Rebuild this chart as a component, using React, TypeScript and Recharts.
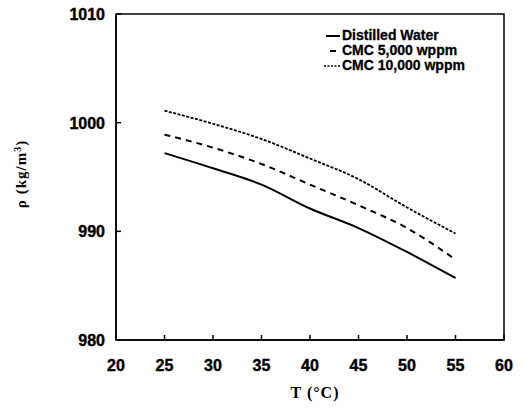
import { LineChart, Line, XAxis, YAxis, ReferenceArea, Legend, Label } from 'recharts';

const temps = [25, 30, 35, 40, 45, 50, 55];
const water = [997.2, 995.8, 994.3, 992.1, 990.3, 988.1, 985.7];
const cmc5000 = [998.9, 997.7, 996.2, 994.3, 992.4, 990.3, 987.4];
const cmc10000 = [1001.1, 999.9, 998.5, 996.7, 994.8, 992.2, 989.8];
const xTicks = [20, 25, 30, 35, 40, 45, 50, 55, 60];
const yTicks = [980, 990, 1000, 1010];

const data = temps.map((t, i) => ({
  t,
  water: water[i],
  cmc5000: cmc5000[i],
  cmc10000: cmc10000[i],
}));

const tickFont = "'Liberation Sans', Arial, sans-serif";
const labelFont = "'Liberation Serif', 'Times New Roman', serif";

const XTick = (props: any) => {
  const { x, y, payload } = props;
  const axisY = y - 19;
  return (
    <g>
      <line x1={x} y1={axisY} x2={x} y2={axisY - 5} stroke='#000' strokeWidth={1.5} />
      <text x={x} y={axisY + 31} textAnchor='middle' fontFamily={tickFont} fontWeight='bold' fontSize={16} fill='#000' stroke='#000' strokeWidth={0.4}>
        {payload.value}
      </text>
    </g>
  );
};

const YTick = (props: any) => {
  const { x, y, payload } = props;
  const axisX = x + 11;
  return (
    <g>
      <line x1={axisX} y1={y} x2={axisX + 5} y2={y} stroke='#000' strokeWidth={1.5} />
      <text x={x} y={y + 6} textAnchor='end' fontFamily={tickFont} fontWeight='bold' fontSize={16} fill='#000' stroke='#000' strokeWidth={0.4}>
        {payload.value}
      </text>
    </g>
  );
};

const legendItems = [
  { name: 'Distilled Water', dash: undefined, w: 2, x1: 4, x2: 18 },
  { name: 'CMC 5,000 wppm', dash: undefined, w: 2, x1: 8, x2: 14 },
  { name: 'CMC 10,000 wppm', dash: '2 1.5', w: 1.5, x1: 2, x2: 18 },
];

const LegendBox = () => (
  <div style={{ fontFamily: tickFont, fontWeight: 'bold', fontSize: 14, lineHeight: '15px', color: '#000', WebkitTextStroke: '0.3px #000' }}>
    {legendItems.map((it) => (
      <div key={it.name} style={{ display: 'flex', alignItems: 'center', whiteSpace: 'nowrap' }}>
        <svg width={20} height={15}>
          <line x1={it.x1} y1={8} x2={it.x2} y2={8} stroke='#000' strokeWidth={it.w} strokeDasharray={it.dash} />
        </svg>
        <span>{it.name}</span>
      </div>
    ))}
  </div>
);

export default function App() {
  return (
    <div style={{ position: 'absolute', left: 0, top: 0, background: '#fff' }}>
      <LineChart width={524} height={408} data={data} margin={{ top: 14, right: 20, bottom: 0, left: 0 }}>
        <ReferenceArea x1={20} x2={60} y1={980} y2={1010} fill='none' stroke='#000' strokeWidth={1.5} ifOverflow='visible' />
        <XAxis
          dataKey='t'
          type='number'
          domain={[20, 60]}
          ticks={xTicks}
          height={68}
          tickSize={0}
          tickMargin={19}
          tickLine={false}
          axisLine={{ stroke: '#000', strokeWidth: 1.5 }}
          tick={<XTick />}
          interval={0}
        >
          <Label
            content={() => (
              <text x={315} y={398} textAnchor='middle' fontFamily={labelFont} fontWeight='bold' fontSize={16} letterSpacing={1} fill='#000'>
                T (°C)
              </text>
            )}
          />
        </XAxis>
        <YAxis
          type='number'
          domain={[980, 1010]}
          ticks={yTicks}
          width={116}
          tickSize={0}
          tickMargin={11}
          tickLine={false}
          axisLine={{ stroke: '#000', strokeWidth: 1.5 }}
          tick={<YTick />}
          interval={0}
        >
          <Label
            content={() => (
              <text
                x={26}
                y={174}
                transform='rotate(-90, 26, 174)'
                textAnchor='middle'
                fontFamily={labelFont}
                fontWeight='bold'
                fontSize={15}
                letterSpacing={1}
                fill='#000'
              >
                ρ (kg/m<tspan dy={-5} fontSize={10}>3</tspan><tspan dy={5}>)</tspan>
              </text>
            )}
          />
        </YAxis>
        <Legend
          layout='vertical'
          align='center'
          verticalAlign='middle'
          content={<LegendBox />}
          wrapperStyle={{ left: 322, top: 28, width: 'auto' }}
        />
        <Line type='monotone' dataKey='water' stroke='#000' strokeWidth={2} dot={false} isAnimationActive={false} />
        <Line type='monotone' dataKey='cmc5000' stroke='#000' strokeWidth={2} strokeDasharray='6 5' dot={false} isAnimationActive={false} />
        <Line type='monotone' dataKey='cmc10000' stroke='#000' strokeWidth={1.8} strokeDasharray='3 1.5' dot={false} isAnimationActive={false} />
      </LineChart>
    </div>
  );
}
